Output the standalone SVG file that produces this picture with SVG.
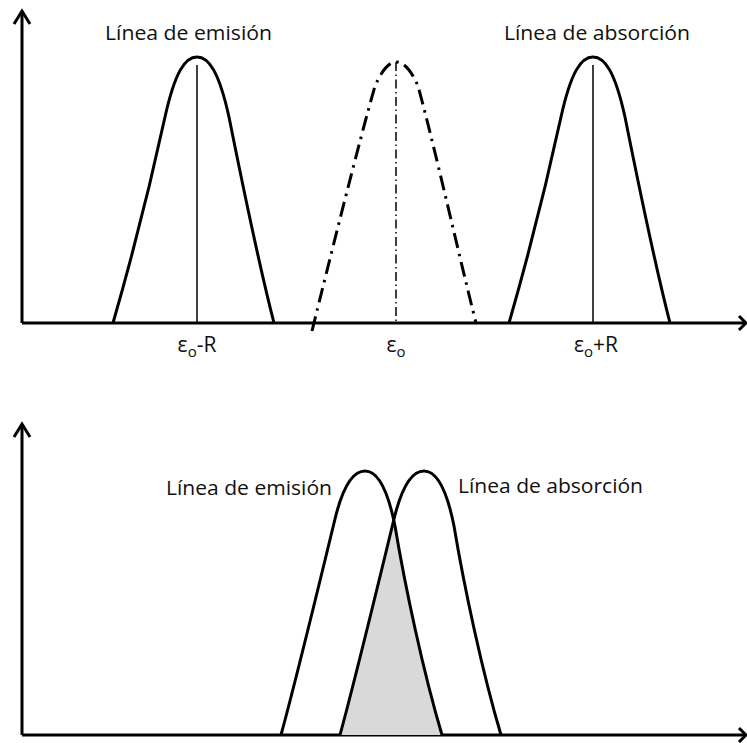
<svg xmlns="http://www.w3.org/2000/svg" width="747" height="743" viewBox="0 0 747 743">
<style>
.curve{fill:none;stroke:#000;stroke-width:3;stroke-linejoin:round}
.axis{fill:none;stroke:#000;stroke-width:3}
.tick{fill:none;stroke:#000;stroke-width:1.5}
.lbl{font-family:"Open Sans","Liberation Sans",sans-serif;font-size:20px;fill:#111}
.eps{font-family:"Open Sans","Liberation Sans",sans-serif;font-size:21px;fill:#111}
</style>
<defs>
<path id="topShape" d="M-84,266 C-65,200 -45,120 -32,60 C-22,15 -12,0 0,0 C12,0 22,15 32,60 C45,125 60,200 77,266"/>
<path id="botShape" d="M-84,264 C-68,205 -45,110 -30,48 C-22,15 -12,0 0,0 C12,0 22,15 30,55 C40,115 58,200 77,264"/>
<clipPath id="emClip">
<path transform="translate(365,471)" d="M-84,264 C-68,205 -45,110 -30,48 C-22,15 -12,0 0,0 C12,0 22,15 30,55 C40,115 58,200 77,264 Z"/>
</clipPath>
</defs>
<rect width="747" height="743" fill="#fff"/>

<g id="connectors">
<g id="top-axes">
<polyline class="axis" points="22,323 22,11"/>
<polyline class="axis" points="14,24 22,11 30,24"/>
<polyline class="axis" points="22,323 745,323"/>
<polyline class="axis" points="739,316 746,323 739,330"/>
</g>
<g id="bottom-axes">
<polyline class="axis" points="22,735 22,424"/>
<polyline class="axis" points="14,437 22,424 30,437"/>
<polyline class="axis" points="22,735 745,735"/>
<polyline class="axis" points="739,728 746,735 739,742"/>
</g>
</g>

<g id="top-emission">
<use href="#topShape" class="curve" transform="translate(197,57)"/>
<line class="tick" x1="197" y1="65" x2="197" y2="323"/>
<text class="lbl" x="105" y="40" textLength="167" lengthAdjust="spacingAndGlyphs">Línea de emisión</text>
<text class="eps" x="197" y="352" text-anchor="middle">ε<tspan font-size="15" dy="5">o</tspan><tspan dy="-5">-R</tspan></text>
</g>

<g id="top-center">
<path class="curve" stroke-dasharray="15 6 2.5 6" d="M312,331 C329,262 359,142 375,86 C383,68 390,62 396,62 C403,62 410,68 418,86 C433,140 460,260 476,323"/>
<line class="tick" stroke-dasharray="9 3.5 1.5 3.5" x1="396" y1="62" x2="396" y2="323"/>
<text class="eps" x="396" y="352" text-anchor="middle">ε<tspan font-size="15" dy="5">o</tspan></text>
</g>

<g id="top-absorption">
<use href="#topShape" class="curve" transform="translate(593,57)"/>
<line class="tick" x1="593" y1="65" x2="593" y2="323"/>
<text class="lbl" x="504" y="40" textLength="186" lengthAdjust="spacingAndGlyphs">Línea de absorción</text>
<text class="eps" x="596" y="352" text-anchor="middle">ε<tspan font-size="15" dy="5">o</tspan><tspan dy="-5">+R</tspan></text>
</g>

<g id="overlap" clip-path="url(#emClip)">
<path fill="#d9d9d9" transform="translate(424,471)" d="M-84,264 C-68,205 -45,110 -30,48 C-22,15 -12,0 0,0 C12,0 22,15 30,55 C40,115 58,200 77,264 Z"/>
</g>

<g id="bottom-emission">
<use href="#botShape" class="curve" transform="translate(365,471)"/>
<text class="lbl" x="166" y="495" textLength="166" lengthAdjust="spacingAndGlyphs">Línea de emisión</text>
</g>

<g id="bottom-absorption">
<use href="#botShape" class="curve" transform="translate(424,471)"/>
<text class="lbl" x="458" y="493" textLength="185" lengthAdjust="spacingAndGlyphs">Línea de absorción</text>
</g>
</svg>
